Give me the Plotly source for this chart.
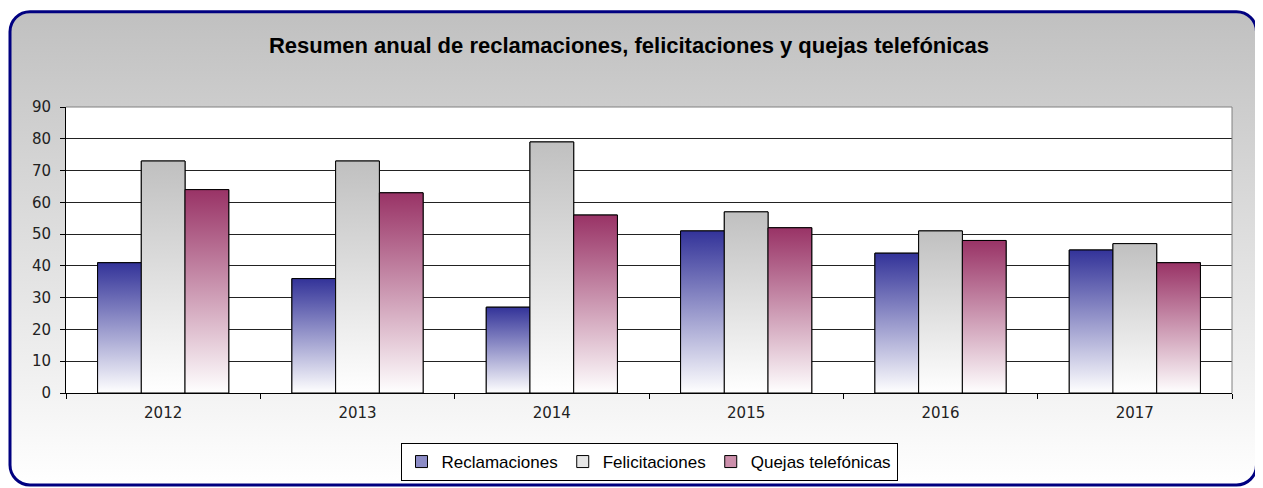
import base64
import plotly.graph_objects as go

# data
years = ["2012", "2013", "2014", "2015", "2016", "2017"]
reclamaciones = [41, 36, 27, 51, 44, 45]
felicitaciones = [73, 73, 79, 57, 51, 47]
quejas = [64, 63, 56, 52, 48, 41]
series_names = ["Reclamaciones", "Felicitaciones", "Quejas telefónicas"]
y_ticks = list(range(0, 100, 10))

# page body adds an 8px offset, so the figure is a bit smaller than the window
W, H = 1255, 480
ML, MR, MT, MB = 58, 31, 99, 95
PW, PH = W - ML - MR, H - MT - MB

top_colors = ["#333399", "#c0c0c0", "#993366"]
mid_colors = ["#8c8cc6", "#e6e6e6", "#cc8fab"]
bar_w = 0.225

# rounded chart area with grey->white gradient, drawn as a background image
svg = f"""<svg xmlns='http://www.w3.org/2000/svg' width='{W}' height='{H}' viewBox='0 0 {W} {H}'>
<defs><linearGradient id='g' x1='0' y1='0' x2='0' y2='1'>
<stop offset='0' stop-color='#c0c0c0'/><stop offset='1' stop-color='#ffffff'/></linearGradient></defs>
<rect x='0' y='0' width='{W}' height='{H}' fill='#ffffff'/>
<rect x='2' y='3.7' width='1246.5' height='473.3' rx='20' ry='20' fill='url(#g)' stroke='#000080' stroke-width='3'/>
<rect x='{ML}' y='{MT}' width='{PW}' height='{PH}' fill='#ffffff'/>
</svg>"""
src = "data:image/svg+xml;base64," + base64.b64encode(svg.encode()).decode()

fig = go.Figure()

all_series = [reclamaciones, felicitaciones, quejas]
xs = list(range(len(years)))

# real bars (legend + outline)
for k, (name, vals) in enumerate(zip(series_names, all_series)):
    fig.add_trace(go.Bar(
        x=xs, y=vals, name=name,
        marker=dict(color=mid_colors[k], line=dict(color="#000000", width=1)),
        hoverinfo="skip",
    ))

# gradient fill painted over each bar, one shape per bar so each fades from its own top
for k, vals in enumerate(all_series):
    for i, v in enumerate(vals):
        cx = i + (k - 1) * bar_w
        x0, x1 = cx - bar_w / 2, cx + bar_w / 2
        fig.add_trace(go.Scatter(
            x=[x0, x0, x1, x1, x0], y=[0, v, v, 0, 0],
            mode="lines", fill="toself",
            fillgradient=dict(type="vertical",
                              colorscale=[[0, "#ffffff"], [1, top_colors[k]]]),
            line=dict(color="#000000", width=1),
            showlegend=False, hoverinfo="skip",
        ))

# invisible trace carrying the category labels axis
fig.add_trace(go.Scatter(x=xs, y=[None] * len(xs), xaxis="x2",
                         showlegend=False, hoverinfo="skip"))

fig.update_layout(
    width=W, height=H,
    margin=dict(l=ML, r=MR, t=MT, b=MB, autoexpand=False),
    paper_bgcolor="#ffffff",
    plot_bgcolor="rgba(0,0,0,0)",
    barmode="group", bargap=0.325, bargroupgap=0,
    title=dict(
        text="Resumen anual de reclamaciones, felicitaciones y quejas telefónicas",
        x=621 / W, xref="container", xanchor="center",
        y=1 - 37 / H, yanchor="middle",
        font=dict(family="Liberation Sans", size=22, color="#000000", weight="bold"),
    ),
    xaxis=dict(
        range=[-0.5, len(years) - 0.5],
        tickvals=[i - 0.5 for i in range(len(years) + 1)],
        showticklabels=False,
        ticks="outside", ticklen=5, tickcolor="#000000",
        showline=True, linecolor="#000000", linewidth=1,
        showgrid=False, zeroline=False,
    ),
    xaxis2=dict(
        overlaying="x", anchor="y", side="bottom",
        range=[-0.5, len(years) - 0.5],
        tickvals=xs, ticktext=years,
        ticks="outside", ticklen=6, tickcolor="rgba(0,0,0,0)",
        tickfont=dict(family="DejaVu Sans", size=15, color="#222222"),
        showline=False, showgrid=False, zeroline=False,
    ),
    yaxis=dict(
        range=[0, 90], tickvals=y_ticks,
        tickfont=dict(family="DejaVu Sans", size=15, color="#222222"),
        ticks="outside", ticklen=5, tickcolor="#000000",
        ticklabelstandoff=6,
        showline=True, linecolor="#000000", linewidth=1,
        showgrid=True, gridcolor="#222222", gridwidth=1,
        zeroline=False,
    ),
    legend=dict(
        orientation="h", x=0.5, xanchor="center",
        y=-50 / PH, yanchor="top",
        bgcolor="#ffffff", bordercolor="#000000", borderwidth=1,
        font=dict(family="Liberation Sans", size=17, color="#000000"),
        itemwidth=30, traceorder="normal",
    ),
    images=[dict(
        source=src, xref="paper", yref="paper",
        x=-ML / PW, y=1 + MT / PH, sizex=W / PW, sizey=H / PH,
        xanchor="left", yanchor="top", sizing="stretch", layer="below",
    )],
    shapes=[dict(
        type="path", xref="paper", yref="paper",
        path="M 0,1 L 1,1 L 1,0", line=dict(color="#808080", width=1),
        layer="above",
    )],
    showlegend=True,
)

fig.write_html("out.html")
